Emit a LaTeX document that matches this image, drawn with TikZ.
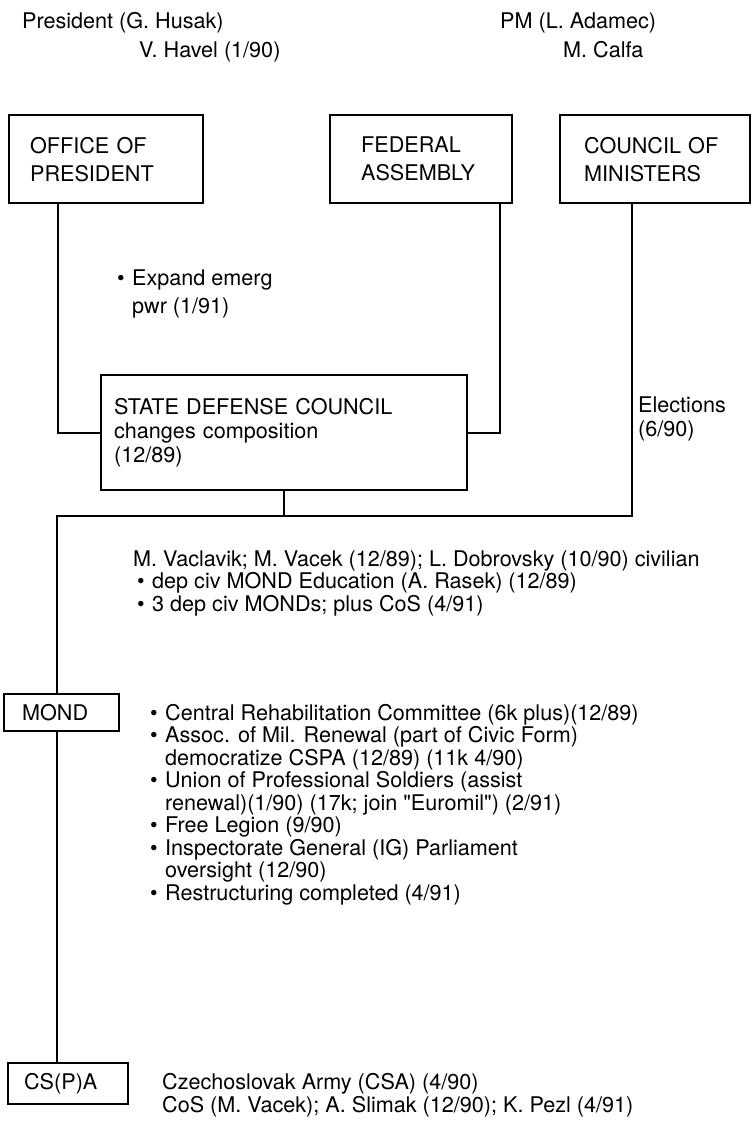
\documentclass[tikz,border=0pt]{standalone}
\usepackage{fontspec}
\setmainfont{TeX Gyre Heros}
\usetikzlibrary{positioning}
\newlength{\bulw}
\setlength{\bulw}{15pt}
\newcommand{\bul}{\makebox[\bulw][l]{\textbullet}}
\newcommand{\cnt}{\hspace*{\bulw}}

\begin{document}
\begin{tikzpicture}[x=1pt,y=-1pt,
  orgbox/.style={draw,line width=2.3pt,anchor=north west,align=left,inner sep=0pt,font=\fontsize{21.6}{28}\selectfont},
  note/.style={anchor=base west,align=left,inner sep=0pt,font=\fontsize{21.6}{22.5}\selectfont},
  link/.style={line width=2pt}]
\useasboundingbox (0,0) rectangle (752,1139);
% heads of office
\node[note] (pres) at (22,29) {President (G. Husak)};
\node[note] (havel) at (139,58) {V. Havel (1/90)};
\node[note] (pm) at (500,29) {PM (L. Adamec)};
\node[note] (calfa) at (563,58) {M. Calfa};
% top row
\node[orgbox,minimum width=194pt,minimum height=88pt,text width=152pt] (office) at (8,114) {OFFICE OF\\PRESIDENT};
\node[orgbox,minimum width=182pt,minimum height=88pt,text width=120pt] (federal) at (329,114) {FEDERAL\\ASSEMBLY};
\node[orgbox,minimum width=190pt,minimum height=88pt,text width=142pt] (council) at (559,114) {COUNCIL OF\\MINISTERS};
% defense council
\node[orgbox,minimum width=366pt,minimum height=115pt,text width=340pt,font=\fontsize{21.6}{24}\selectfont] (sdc) at (100,374) {STATE DEFENSE COUNCIL\\changes composition\\(12/89)};
\node[orgbox,minimum width=115pt,minimum height=37pt,text width=79pt] (mond) at (3,693) {MOND};
\node[orgbox,minimum width=120pt,minimum height=41pt,text width=88pt] (cspa) at (7,1062) {CS(P)A};
% notes (placed at the baseline of their last line)
\node[note,font=\fontsize{21.6}{28}\selectfont] (emerg) at (117,313) {\bul Expand emerg\\\cnt pwr (1/91)};
\node[note,font=\fontsize{21.6}{24}\selectfont] (elect) at (638,436) {Elections\\(6/90)};
\node[note] (ministers) at (133,611) {M. Vaclavik; M. Vacek (12/89); L. Dobrovsky (10/90) civilian\\
  \hspace*{4pt}\bul dep civ MOND Education (A. Rasek) (12/89)\\
  \hspace*{4pt}\bul 3 dep civ MONDs; plus CoS (4/91)};
\node[note] (reforms) at (150,900) {\bul Central Rehabilitation Committee (6k plus)(12/89)\\
  \bul Assoc. of Mil. Renewal (part of Civic Form)\\
  \cnt democratize CSPA (12/89) (11k 4/90)\\
  \bul Union of Professional Soldiers (assist\\
  \cnt renewal)(1/90) (17k; join \textquotedbl Euromil\textquotedbl) (2/91)\\
  \bul Free Legion (9/90)\\
  \bul Inspectorate General (IG) Parliament\\
  \cnt oversight (12/90)\\
  \bul Restructuring completed (4/91)};
\node[note,font=\fontsize{21.6}{23}\selectfont] (army) at (162,1112) {Czechoslovak Army (CSA) (4/90)\\CoS (M. Vacek); A. Slimak (12/90); K. Pezl (4/91)};
% links
\coordinate (bus) at (57,516);
\draw[link] ([xshift=-48pt]office.south) |- (sdc.west);
\draw[link] ([xshift=79pt]federal.south) |- (sdc.east);
\draw[link] ([xshift=-23pt]council.south) |- (bus) -- (bus |- mond.north);
\draw[link] (sdc.south) -- (sdc.south |- bus);
\draw[link] (bus |- mond.south) -- (bus |- cspa.north);
\end{tikzpicture}
\end{document}
